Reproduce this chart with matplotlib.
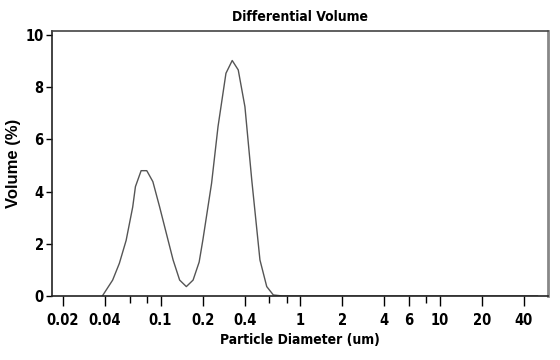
import matplotlib
matplotlib.use('Agg')
import matplotlib.pyplot as plt
from matplotlib.ticker import FixedLocator, NullFormatter

# diameters (um) and differential volume (%)
diam = [0.0383, 0.0454, 0.0507, 0.0567, 0.0632, 0.0661, 0.0726, 0.0797, 0.0881,
        0.0984, 0.110, 0.123, 0.137, 0.153, 0.171, 0.189, 0.201, 0.232, 0.258,
        0.294, 0.326, 0.360, 0.402, 0.450, 0.515, 0.576, 0.642, 0.75, 1.0, 2.0,
        5.0, 10.0, 20.0, 50.0]
vol = [0.0, 0.61, 1.25, 2.13, 3.41, 4.19, 4.80, 4.80, 4.38,
       3.42, 2.40, 1.38, 0.61, 0.36, 0.61, 1.30, 2.15, 4.32, 6.49,
       8.53, 9.02, 8.66, 7.25, 4.44, 1.38, 0.36, 0.04, 0.0, 0.0, 0.0,
       0.0, 0.0, 0.0, 0.0]

x_major = [0.02, 0.04, 0.1, 0.2, 0.4, 1, 2, 4, 6, 10, 20, 40]
x_labels = ['0.02', '0.04', '0.1', '0.2', '0.4', '1', '2', '4', '6', '10', '20', '40']
x_minor = [0.06, 0.08, 0.6, 0.8, 8]
y_major = [0, 2, 4, 6, 8, 10]

plt.rcParams['font.family'] = ['DejaVu Sans']
plt.rcParams['font.weight'] = 'bold'
plt.rcParams['font.stretch'] = 'condensed'

fig = plt.figure(figsize=(5.6, 3.6), dpi=100)
ax = fig.add_axes([52/560, 1 - 296/360, 496/560, 265/360])

ax.plot(diam, vol, color='#555555', lw=1.0)

ax.set_xscale('log')
ax.set_xlim(0.0167, 59.5)
ax.set_ylim(0, 10.15)

ax.xaxis.set_major_locator(FixedLocator(x_major))
ax.set_xticklabels(x_labels)
ax.xaxis.set_minor_locator(FixedLocator(x_minor))
ax.xaxis.set_minor_formatter(NullFormatter())
ax.set_yticks(y_major)

ax.tick_params(axis='x', which='major', length=7, width=1, labelsize=10.5, pad=5)
ax.tick_params(axis='x', which='minor', length=5, width=1)
ax.tick_params(axis='y', which='major', length=4, width=1, labelsize=10.5, pad=2)

for side in ['left', 'bottom']:
    ax.spines[side].set_linewidth(1.2)
    ax.spines[side].set_color('#222222')
ax.spines['top'].set_linewidth(1.2)
ax.spines['top'].set_color('#444444')
ax.spines['right'].set_linewidth(2)
ax.spines['right'].set_color('#888888')

ax.set_title('Differential Volume', fontsize=10, fontweight='bold', pad=7)
ax.set_xlabel('Particle Diameter (um)', fontsize=10, fontweight='bold', labelpad=4)
ax.set_ylabel('Volume (%)', fontsize=12, fontweight='bold', labelpad=3,
              family='Liberation Sans', fontstretch='normal')

fig.savefig('out.png', dpi=100)
